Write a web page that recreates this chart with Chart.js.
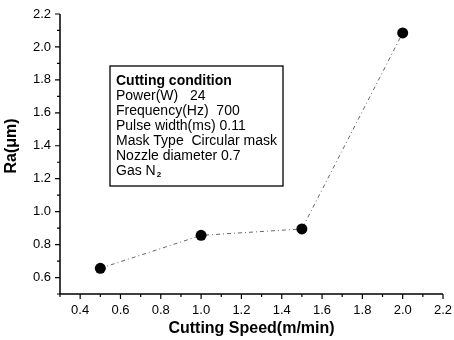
<!DOCTYPE html>
<html>
<head>
<meta charset="utf-8">
<script src="https://cdn.jsdelivr.net/npm/chart.js@4/dist/chart.umd.min.js"></script>
<style>
  html,body{margin:0;padding:0;background:#fff;}
  #wrap{width:454px;height:340px;position:relative;}
</style>
</head>
<body>
<div id="wrap"><canvas id="c"></canvas></div>
<script>
const speeds = [0.5, 1.0, 1.5, 2.0];
const roughness = [0.656, 0.856, 0.895, 2.085];
const xRange = [0.3, 2.2];
const yRange = [0.5, 2.2];
const yTitle = 'Ra(\u03bcm)';
const conditionLines = [
  'Cutting condition',
  'Power(W)   24',
  'Frequency(Hz)  700',
  'Pulse width(ms) 0.11',
  'Mask Type  Circular mask',
  'Nozzle diameter 0.7',
  'Gas N'
];

const FONT = '"Liberation Sans", Arial, Helvetica, sans-serif';
const isMajor = v => Math.round(v * 10) % 2 === 0;

// axis lines + major/minor tick marks drawn from the scales
const axisTicks = {
  id: 'axisTicks',
  afterDraw(chart) {
    const ctx = chart.ctx, a = chart.chartArea;
    const xs = chart.scales.x, ys = chart.scales.y;
    ctx.save();
    ctx.strokeStyle = '#000';
    ctx.lineWidth = 1.5;
    ctx.beginPath();
    ctx.moveTo(a.left, a.top); ctx.lineTo(a.left, a.bottom); ctx.lineTo(a.right, a.bottom);
    ctx.stroke();
    ctx.lineWidth = 1.2;
    ctx.beginPath();
    xs.ticks.forEach(t => {
      const px = xs.getPixelForValue(t.value);
      const len = isMajor(t.value) ? 5 : 3;
      ctx.moveTo(px, a.bottom); ctx.lineTo(px, a.bottom + len);
    });
    ys.ticks.forEach(t => {
      const py = ys.getPixelForValue(t.value);
      const len = isMajor(t.value) ? 5 : 3;
      ctx.moveTo(a.left, py); ctx.lineTo(a.left - len, py);
    });
    ctx.stroke();
    // y axis title (sits a little above the plot centre in the original)
    ctx.fillStyle = '#000';
    ctx.font = 'bold 16px ' + FONT;
    ctx.textAlign = 'center';
    ctx.textBaseline = 'middle';
    ctx.translate(12, 146);
    ctx.rotate(-Math.PI / 2);
    ctx.fillText(yTitle, 0, 0);
    ctx.restore();
  }
};

// the cutting-condition box
const conditionBox = {
  id: 'conditionBox',
  afterDraw(chart) {
    const ctx = chart.ctx;
    const bx = 110, by = 66, bw = 173, bh = 120;
    ctx.save();
    ctx.strokeStyle = '#000';
    ctx.lineWidth = 1.3;
    ctx.strokeRect(bx, by, bw, bh);
    ctx.fillStyle = '#000';
    ctx.textBaseline = 'middle';
    conditionLines.forEach((s, i) => {
      ctx.font = (i === 0 ? 'bold ' : '') + '14px ' + FONT;
      const y = 81 + i * 15;
      ctx.fillText(s, 116, y);
      if (i === conditionLines.length - 1) {
        const w = ctx.measureText(s).width;
        ctx.font = 'bold 8px ' + FONT;
        ctx.fillText('2', 116 + w + 1, y + 4);
      }
    });
    ctx.restore();
  }
};

new Chart(document.getElementById('c'), {
  type: 'scatter',
  data: {
    datasets: [{
      data: speeds.map((x, i) => ({ x, y: roughness[i] })),
      showLine: true,
      borderColor: '#666',
      borderWidth: 1,
      borderDash: [4, 3, 1, 3],
      pointRadius: 5.5,
      pointBackgroundColor: '#000',
      pointBorderColor: '#000',
      pointBorderWidth: 0
    }]
  },
  options: {
    responsive: true,
    maintainAspectRatio: false,
    animation: false,
    layout: { padding: { left: 4, right: 11, top: 14, bottom: 2 } },
    plugins: { legend: { display: false }, tooltip: { enabled: false } },
    scales: {
      x: {
        type: 'linear', min: xRange[0], max: xRange[1],
        border: { display: false },
        grid: { display: false, drawTicks: false },
        ticks: {
          stepSize: 0.1, autoSkip: false, maxRotation: 0, padding: 9,
          color: '#000', font: { family: FONT, size: 13 },
          callback: v => isMajor(v) ? v.toFixed(1) : ''
        },
        title: { display: true, text: 'Cutting Speed(m/min)', color: '#000',
          font: { family: FONT, size: 16, weight: 'bold' }, padding: { top: 1, bottom: 0 } },
        afterFit: s => { s.height = 44; s.paddingLeft = 0; s.paddingRight = 0; }
      },
      y: {
        type: 'linear', min: yRange[0], max: yRange[1],
        border: { display: false },
        grid: { display: false, drawTicks: false },
        ticks: {
          stepSize: 0.1, autoSkip: false, padding: 9,
          color: '#000', font: { family: FONT, size: 13 },
          callback: v => isMajor(v) ? v.toFixed(1) : ''
        },
        afterFit: s => { s.width = 56; s.paddingTop = 0; s.paddingBottom = 0; }
      }
    }
  },
  plugins: [axisTicks, conditionBox]
});
</script>
</body>
</html>
